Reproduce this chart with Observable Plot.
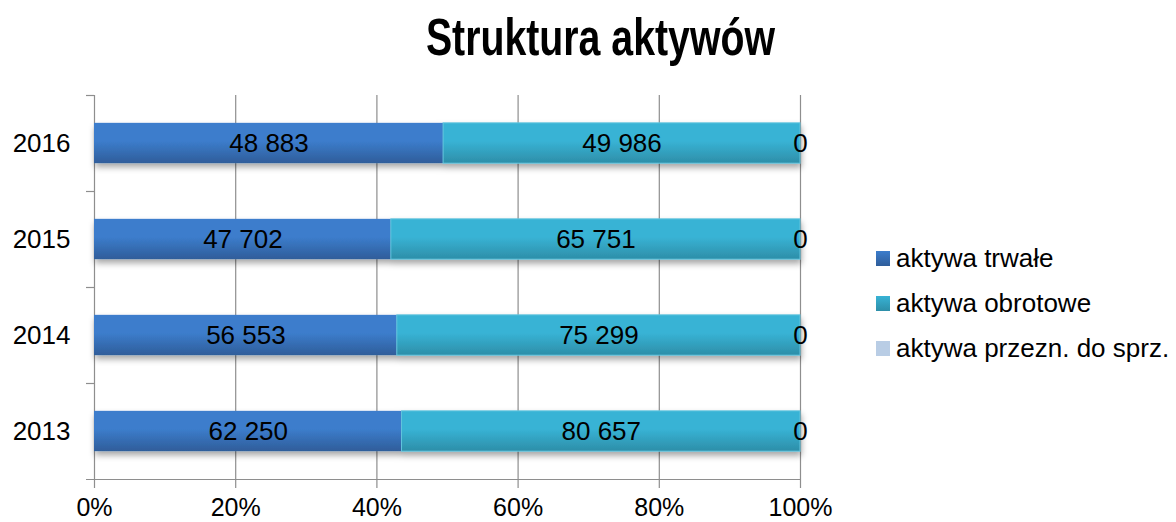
<!DOCTYPE html>
<html>
<head>
<meta charset="utf-8">
<script src="https://cdn.jsdelivr.net/npm/d3@7"></script>
<script src="https://cdn.jsdelivr.net/npm/@observablehq/plot@0.6"></script>
<style>
  html, body { margin: 0; padding: 0; background: #fff; }
  #wrap { position: relative; width: 1176px; height: 522px; overflow: hidden; font-family: "Liberation Sans", Arial, sans-serif; }
  #title { position: absolute; left: 10px; width: 1176px; top: 7px; text-align: center; font-family: "Liberation Sans Narrow", "Arial Narrow", "Liberation Sans", sans-serif; font-weight: bold; font-size: 52px; line-height: 60px; color: #000; transform: scaleX(0.755); transform-origin: 598px 0; }
  #legend { position: absolute; left: 876px; top: 236px; font-size: 26px; color: #000; }
  .item { position: relative; height: 45px; line-height: 45px; white-space: nowrap; }
  .sw { position: absolute; left: 0; top: 15px; width: 14px; height: 15px; }
  .lab { position: absolute; left: 20px; top: 0; }
  #chart { position: absolute; left: 0; top: 0; }
</style>
</head>
<body>
<div id="wrap">
  <div id="chart"></div>
  <div id="title">Struktura aktywów</div>
  <div id="legend"></div>
</div>
<script>
const years = ["2013", "2014", "2015", "2016"];
const trwale = [62250, 56553, 47702, 48883];
const obrotowe = [80657, 75299, 65751, 49986];
const przezn = [0, 0, 0, 0];
const seriesNames = ["aktywa trwałe", "aktywa obrotowe", "aktywa przezn. do sprz."];
const xTicks = [0, 0.2, 0.4, 0.6, 0.8, 1];
const xTickLabels = ["0%", "20%", "40%", "60%", "80%", "100%"];
const swatchColors = ["#3569b5", "#33a7c8", "#b9cde5"];

const fmt = d3.formatLocale({decimal: ",", thousands: "\u00a0", grouping: [3], currency: ["", " zł"]}).format(",.0f");

const rows = [];
years.forEach((yr, i) => {
  const vals = [trwale[i], obrotowe[i], przezn[i]];
  const total = d3.sum(vals);
  let acc = 0;
  vals.forEach((v, s) => {
    const x1 = acc / total;
    acc += v;
    const x2 = acc / total;
    rows.push({year: yr, i, s, series: seriesNames[s], value: v, x1, x2});
  });
});

const labelFont = 26;

const svg = Plot.plot({
  width: 1176,
  height: 522,
  marginLeft: 94,
  marginRight: 376,
  marginTop: 95,
  marginBottom: 43,
  style: {fontFamily: "'Liberation Sans', Arial, sans-serif", background: "transparent"},
  x: {domain: [0, 1], axis: null},
  y: {domain: [0, 4], axis: null},
  color: {domain: seriesNames, range: ["url(#g0)", "url(#g1)", "url(#g2)"]},
  marks: [
    Plot.ruleX(xTicks, {x: d => d, stroke: "#8e8e8e", strokeWidth: 1.2, insetBottom: -9}),
    Plot.ruleY([1, 2, 3, 4], {y: d => d, x1: 0, x2: 0, insetLeft: -8, stroke: "#8e8e8e", strokeWidth: 1.2}),
    Plot.ruleY([0], {y: d => d, insetLeft: -8, stroke: "#8e8e8e", strokeWidth: 1.2}),
    Plot.rectX(rows, {
      x1: "x1", x2: "x2",
      y1: d => d.i + 0.29, y2: d => d.i + 0.71,
      fill: "series",
      stroke: d => d.s === 1 ? "#62c4de" : "none",
      strokeWidth: 1
    }),
    Plot.text(rows, {
      x: d => d.value === 0 ? d.x2 : (d.x1 + d.x2) / 2,
      y: d => d.i + 0.5,
      text: d => fmt(d.value),
      fontSize: labelFont, fill: "#000"
    }),
    Plot.text(years, {
      x: 0, y: (d, i) => i + 0.5, text: d => d,
      textAnchor: "end", dx: -24, fontSize: labelFont, fill: "#000"
    }),
    Plot.text(xTicks, {
      x: d => d, y: 0, text: (d, i) => xTickLabels[i],
      dy: 28, fontSize: 25, fill: "#000"
    })
  ]
});

const s = d3.select(svg);
const defs = s.insert("defs", ":first-child");
function grad(id, top, bottom) {
  const g = defs.append("linearGradient").attr("id", id).attr("x1", 0).attr("y1", 0).attr("x2", 0).attr("y2", 1);
  g.append("stop").attr("offset", "0%").attr("stop-color", top);
  g.append("stop").attr("offset", "45%").attr("stop-color", top);
  g.append("stop").attr("offset", "100%").attr("stop-color", bottom);
}
grad("g0", "#3c7dcc", "#2f5d9a");
grad("g1", "#38b3d5", "#2d8ea8");
grad("g2", "#b9cde5", "#a5bcd8");
const f = defs.append("filter").attr("id", "shadow").attr("x", "-5%").attr("y", "-20%").attr("width", "110%").attr("height", "160%");
f.append("feDropShadow").attr("dx", 1).attr("dy", 4).attr("stdDeviation", 3).attr("flood-color", "#000").attr("flood-opacity", 0.35);
s.selectAll('g[aria-label="rect"]').attr("filter", "url(#shadow)");

document.getElementById("chart").appendChild(svg);

const legend = d3.select("#legend");
seriesNames.forEach((n, i) => {
  const it = legend.append("div").attr("class", "item");
  it.append("div").attr("class", "sw").style("background", i < 2 ? `linear-gradient(${["#3c7dcc","#38b3d5"][i]}, ${["#2f5d9a","#2d8ea8"][i]})` : swatchColors[i]);
  it.append("div").attr("class", "lab").text(n);
});
</script>
</body>
</html>
